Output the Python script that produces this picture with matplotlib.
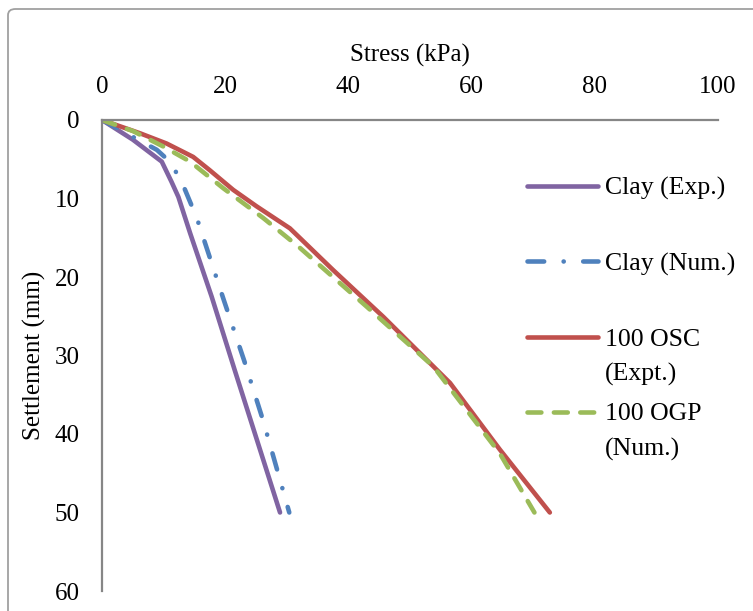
import matplotlib
matplotlib.use('Agg')
import matplotlib.pyplot as plt
from matplotlib.patches import FancyBboxPatch

plt.rcParams['font.family'] = ['Liberation Serif', 'DejaVu Serif']
plt.rcParams['lines.scale_dashes'] = False

# data (stress kPa, settlement mm)
clay_exp_x = [0, 5.0, 9.7, 11.3, 12.4, 14.3, 17.8, 21.6, 28.9]
clay_exp_y = [0, 2.5, 5.3, 7.9, 9.8, 14.4, 22.5, 32.0, 50.0]

clay_num_x = [0, 5.6, 8.9, 11.0, 12.9, 15.4, 19.8, 23.1, 26.2, 30.4]
clay_num_y = [0, 2.4, 3.8, 5.3, 7.8, 12.5, 23.0, 30.7, 38.4, 50.0]

osc_exp_x = [0, 6.2, 10.5, 14.8, 17.5, 21.3, 25.1, 30.5, 37.5, 45.7, 56.5, 64.6, 72.7]
osc_exp_y = [0, 1.7, 3.0, 4.7, 6.4, 8.9, 11.0, 13.8, 19.1, 25.1, 33.5, 42.0, 50.0]

ogp_num_x = [0, 5.0, 10.0, 14.3, 19.7, 26.2, 32.0, 43.0, 53.8, 64.6, 70.2]
ogp_num_y = [0, 1.4, 3.4, 5.3, 8.7, 12.5, 16.2, 23.8, 31.4, 42.5, 50.0]

x_ticks = [0, 20, 40, 60, 80, 100]
y_ticks = [0, 10, 20, 30, 40, 50, 60]

fig = plt.figure(figsize=(7.53, 6.11), dpi=100)
ax = fig.add_axes([102 / 753, 1 - 591 / 611, 616 / 753, 471 / 611])

# outer chart frame
frame = FancyBboxPatch((8 / 753, -0.05), 1.05, 1 - 9 / 611 + 0.05,
                       boxstyle='round,pad=0,rounding_size=0.01',
                       transform=fig.transFigure, fill=False,
                       edgecolor='#a0a0a0', linewidth=1.3, zorder=0)
fig.patches.append(frame)

lw = 3.3
ax.plot(clay_exp_x, clay_exp_y, color='#8064a2', lw=lw, label='Clay (Exp.)',
        solid_capstyle='round', solid_joinstyle='round')
ax.plot(clay_num_x, clay_num_y, color='#4f81bd', lw=lw, label='Clay (Num.)',
        linestyle=(0, (12, 14, 0.1, 14)), dash_capstyle='round')
ax.plot(osc_exp_x, osc_exp_y, color='#c0504d', lw=lw, label='100 OSC',
        solid_capstyle='round', solid_joinstyle='round')
ax.plot(ogp_num_x, ogp_num_y, color='#9bbb59', lw=lw, label='100 OGP',
        linestyle=(0, (10, 9)), dash_capstyle='round')

ax.set_xlim(0, 100)
ax.set_ylim(60, 0)
ax.set_xticks(x_ticks)
ax.set_yticks(y_ticks)
ax.xaxis.tick_top()
ax.xaxis.set_label_position('top')
ax.tick_params(length=0, labelsize=18, pad=16)
ax.set_xlabel('Stress (kPa)', fontsize=18, labelpad=10)
ax.set_ylabel('Settlement (mm)', fontsize=18, labelpad=6)

for s in ['right', 'bottom']:
    ax.spines[s].set_visible(False)
for s in ['left', 'top']:
    ax.spines[s].set_color('#868686')
    ax.spines[s].set_linewidth(1.6)

leg = ax.legend(loc='upper left', bbox_to_anchor=(527 / 753, 1 - 177 / 611),
                bbox_transform=fig.transFigure, frameon=False, fontsize=18.5,
                handlelength=2.75, handletextpad=0.3, labelspacing=2.02,
                borderpad=0, borderaxespad=0)

fig.canvas.draw()

# second lines of the two wrapped legend labels
texts = leg.get_texts()
for t, extra in [(texts[2], '(Expt.)'), (texts[3], '(Num.)')]:
    ax.annotate(extra, xy=(0, 0.5), xycoords=t, xytext=(0, -25),
                textcoords='offset points', ha='left', va='center',
                fontsize=18.5, zorder=10, annotation_clip=False)

fig.savefig('out.png', dpi=100)
